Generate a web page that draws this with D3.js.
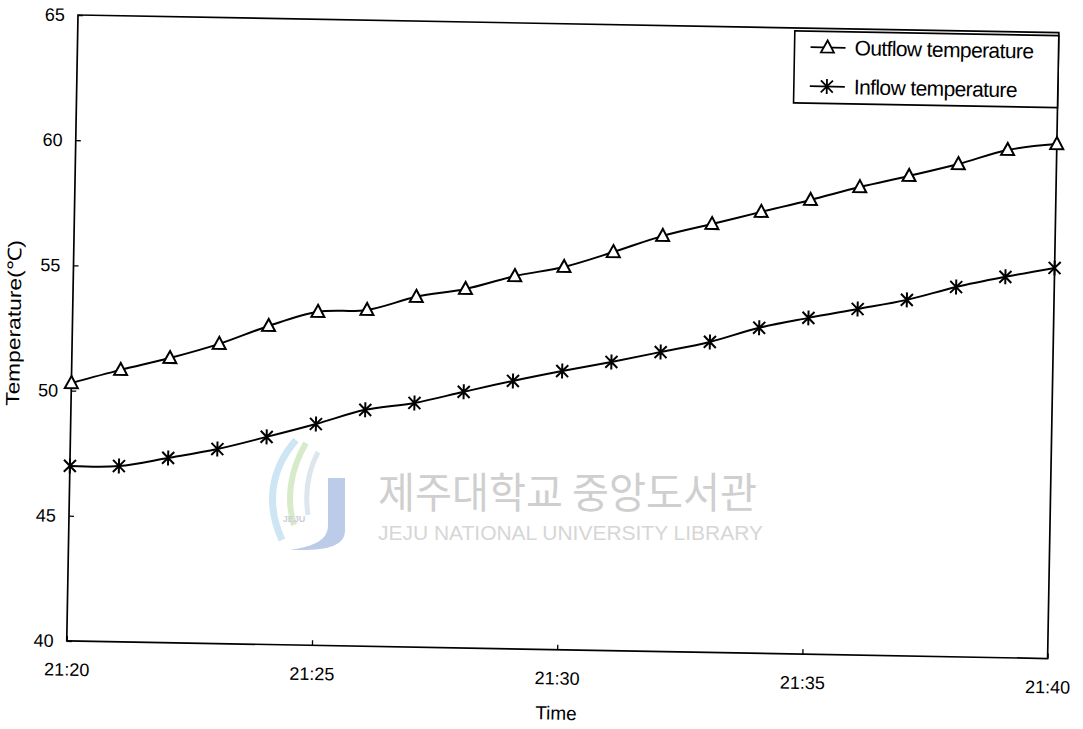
<!DOCTYPE html>
<html>
<head>
<meta charset="utf-8">
<script src="https://cdn.jsdelivr.net/npm/d3@7"></script>
<style>
  body { margin: 0; background: #fff; }
  svg text { font-family: "Liberation Sans", Arial, sans-serif; fill: #000; }
</style>
</head>
<body>
<svg id="chart" width="1083" height="729"></svg>
<script>
// Sampling times (one reading per minute)
const times = ["21:20","21:21","21:22","21:23","21:24","21:25","21:26","21:27","21:28","21:29","21:30",
               "21:31","21:32","21:33","21:34","21:35","21:36","21:37","21:38","21:39","21:40"];
// Outflow water temperature, deg C
const outflow = [50.30,50.86,51.37,51.97,52.72,53.32,53.43,53.99,54.34,54.89,55.29,
                 55.92,56.60,57.11,57.63,58.14,58.69,59.17,59.68,60.28,60.55];
// Inflow water temperature, deg C
const inflow = [46.99,47.02,47.38,47.77,48.29,48.84,49.44,49.75,50.23,50.70,51.13,
                51.53,51.96,52.40,53.00,53.43,53.82,54.22,54.77,55.21,55.60];
const yTicks = [40,45,50,55,60,65];
const xTickLabels = ["21:20","21:25","21:30","21:35","21:40"];
const seriesNames = ["Outflow temperature","Inflow temperature"];

const svg = d3.select("#chart");
const W = 981, H = 626;
const parse = d3.timeParse("%H:%M");

const x = d3.scaleTime().domain([parse(xTickLabels[0]), parse(xTickLabels[xTickLabels.length - 1])]).range([0, W]);
const y = d3.scaleLinear().domain([40, 65]).range([H, 0]);

// --- library watermark (printed flat on the page) ---
const wm = svg.append("g").attr("class", "watermark");
wm.append("path")
  .attr("d", "M296,440 C270,470 266,505 282,540")
  .attr("fill", "none").attr("stroke", "#c9e3f2").attr("stroke-width", 7).attr("opacity", 0.9);
wm.append("path")
  .attr("d", "M306,443 C290,470 286,500 294,525")
  .attr("fill", "none").attr("stroke", "#d3e8c4").attr("stroke-width", 6).attr("opacity", 0.9);
wm.append("path")
  .attr("d", "M318,452 C306,475 305,495 308,515")
  .attr("fill", "none").attr("stroke", "#dde6ee").attr("stroke-width", 5);
wm.append("path")
  .attr("d", "M328,478 L345,478 L345,530 C345,545 330,550 300,550 L290,550 C315,546 328,540 328,525 Z")
  .attr("fill", "#bccbe8");
wm.append("text").attr("x", 294).attr("y", 522).attr("text-anchor", "middle")
  .style("font-size", "9px").style("font-weight", "bold").style("fill", "#c9cfd8").text("JEJU");
wm.append("text").attr("x", 378).attr("y", 508).attr("textLength", 379).attr("lengthAdjust", "spacingAndGlyphs")
  .style("font-family", "'Noto Sans CJK KR', sans-serif").style("font-size", "42px").style("fill", "#cfcfcf")
  .text("제주대학교 중앙도서관");
wm.append("text").attr("x", 378).attr("y", 540).attr("textLength", 385).attr("lengthAdjust", "spacingAndGlyphs")
  .style("font-size", "20px").style("fill", "#d6d6d6")
  .text("JEJU NATIONAL UNIVERSITY  LIBRARY");

// --- chart body; the printed figure sits about one degree off square ---
const g = svg.append("g").attr("transform", "translate(78,15) rotate(1.03)");

const yAxis = d3.axisLeft(y).tickValues(yTicks).tickSizeInner(-5).tickSizeOuter(0).tickPadding(13)
  .tickFormat(d3.format("d"));
const xAxis = d3.axisBottom(x).tickValues(xTickLabels.map(parse)).tickFormat(d3.timeFormat("%H:%M"))
  .tickSizeInner(-5).tickSizeOuter(0).tickPadding(22);

const gy = g.append("g").call(yAxis);
const gx = g.append("g").attr("transform", `translate(0,${H})`).call(xAxis);
[gx, gy].forEach(a => {
  a.select(".domain").remove();
  a.selectAll(".tick line").attr("stroke", "#000").attr("stroke-width", 1.3);
  a.selectAll(".tick text").style("font-size", "18px").style("fill", "#000");
});

g.append("rect").attr("x", 0).attr("y", 0).attr("width", W).attr("height", H)
  .attr("fill", "none").attr("stroke", "#000").attr("stroke-width", 1.7);

g.append("text").attr("x", W / 2).attr("y", H + 70).attr("text-anchor", "middle")
  .style("font-size", "19px").text("Time");
g.append("text").attr("transform", `translate(-52,${H / 2 - 4}) rotate(-90)`).attr("text-anchor", "middle")
  .attr("textLength", 166).attr("lengthAdjust", "spacingAndGlyphs")
  .style("font-size", "19px").text("Temperature(℃)");

const triPath = "M0,-7 L6.5,5 L-6.5,5 Z";
const starPath = "M-6,-6L6,6M-6,6L6,-6M0,-7.5L0,7.5";

const series = [
  { name: seriesNames[0], values: outflow, marker: triPath, fill: "#fff" },
  { name: seriesNames[1], values: inflow, marker: starPath, fill: "none" }
];

const line = d3.line()
  .x(d => x(d.t)).y(d => y(d.v))
  .curve(d3.curveCatmullRom.alpha(0.5));

series.forEach(s => {
  const pts = times.map((t, i) => ({ t: parse(t), v: s.values[i] }));
  g.append("path").datum(pts).attr("d", line)
    .attr("fill", "none").attr("stroke", "#000").attr("stroke-width", 2);
  g.append("g").selectAll("path").data(pts).join("path")
    .attr("transform", d => `translate(${x(d.t)},${y(d.v)})`)
    .attr("d", s.marker)
    .attr("fill", s.fill).attr("stroke", "#000").attr("stroke-width", 2);
});

// --- legend ---
const lg = g.append("g").attr("transform", "translate(717,3)");
lg.append("rect").attr("width", W - 717).attr("height", 72)
  .attr("fill", "#fff").attr("stroke", "#000").attr("stroke-width", 1.6);
series.forEach((s, i) => {
  const row = lg.append("g").attr("transform", `translate(0,${16 + i * 39})`);
  row.append("line").attr("x1", 16).attr("x2", 51).attr("stroke", "#000").attr("stroke-width", 1.8);
  row.append("path").attr("transform", "translate(33,0)").attr("d", s.marker)
    .attr("fill", s.fill).attr("stroke", "#000").attr("stroke-width", 1.8);
  row.append("text").attr("x", 60).attr("dy", "0.35em")
    .style("font-size", "21px").style("letter-spacing", "-0.6px").text(s.name);
});
</script>
</body>
</html>
